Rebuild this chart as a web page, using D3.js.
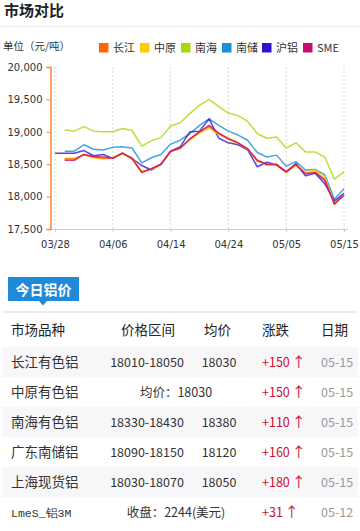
<!DOCTYPE html>
<html><head><meta charset="utf-8">
<script src="https://cdn.jsdelivr.net/npm/d3@7"></script>
<style>
body{margin:0;background:#fff;}
svg{display:block;font-family:"Noto Sans CJK SC","Noto Sans",sans-serif;}
</style></head>
<body><svg id="c" width="360" height="531"></svg>
<script>
const dates = ["03/28","03/29","03/30","03/31","04/03","04/04","04/06","04/07","04/10","04/11","04/12","04/13","04/14","04/17","04/18","04/19","04/20","04/21","04/24","04/25","04/26","04/27","04/28","05/04","05/05","05/08","05/09","05/10","05/11","05/12","05/15"];
const tickDates = ["03/28","04/06","04/14","04/24","05/05","05/15"];
const yTicks = [17500,18000,18500,19000,19500,20000];
const seriesNames = ["长江","中原","南海","南储","沪铝","SME"];
const seriesColors = ["#ff6600","#ffcc00","#a8d80a","#1a8fd6","#2a14d2","#cc0c6c"];
const changjiang = [null,18580,18580,18650,18610,18590,18600,18670,18580,18380,18430,18500,18700,18750,18890,19000,19080,18970,18900,18830,18730,18550,18490,18500,18380,18480,18360,18380,18270,17880,18030];
const zhongyuan  = [null,18590,18590,18640,18600,18580,18590,18660,18600,18400,18420,18490,18690,18740,18870,18980,19050,18960,18880,18820,18740,18560,18480,18510,18370,18490,18380,18410,18310,17880,18030];
const nanhai     = [null,19030,19010,19080,19010,19000,19000,19050,19020,18780,18860,18910,19090,19140,19280,19410,19500,19390,19290,19250,19160,18970,18900,18920,18750,18830,18690,18690,18610,18270,18380];
const nanchu     = [null,18700,18700,18800,18730,18720,18760,18770,18750,18520,18600,18650,18810,18870,18970,19100,19200,19100,19010,18950,18870,18680,18610,18640,18470,18540,18410,18420,18340,17960,18120];
const hulv       = [18670,18670,18670,18710,18630,18650,18590,18670,18590,18480,18410,18500,18700,18770,19000,19010,19200,18900,18830,18800,18720,18460,18530,18490,18370,18510,18320,18360,18200,17930,18050];
const sme        = [null,18560,18560,18650,18620,18610,18590,18670,18590,18370,18430,18500,18700,18750,18890,19000,19100,18980,18890,18830,18740,18560,18500,18490,18390,18500,18350,18370,18250,17890,18020];
const tableHeader = ["市场品种","价格区间","均价","涨跌","日期"];
const rowNames = ["长江有色铝","中原有色铝","南海有色铝","广东南储铝","上海现货铝","LmeS_铝3M"];
const rowRanges = ["18010-18050","均价：18030","18330-18430","18090-18150","18030-18070","收盘：2244(美元)"];
const rowAvgs = ["18030","","18380","18120","18050",""];
const rowChanges = ["+150","+150","+110","+160","+180","+31"];
const rowDates = ["05-15","05-15","05-15","05-15","05-15","05-12"];

const svg = d3.select("#c");
// header
svg.append("text").attr("x",4).attr("y",16).attr("font-size",15).attr("font-weight","bold").attr("fill","#222").text("市场对比");
svg.append("line").attr("x1",0).attr("x2",360).attr("y1",26.5).attr("y2",26.5).attr("stroke","#eee");
svg.append("text").attr("x",3).attr("y",50).attr("font-size",10.5).attr("fill","#333").text("单位（元/吨）");

// legend
const legX = [99,140,181,222,262,303];
const leg = svg.selectAll("g.leg").data(seriesNames).join("g").attr("class","leg")
  .attr("transform",(d,i)=>`translate(${legX[i]},43)`);
leg.append("rect").attr("width",9.5).attr("height",9.5).attr("fill",(d,i)=>seriesColors[i]);
leg.append("text").attr("x",14).attr("y",9).attr("font-size",11).attr("fill","#333").text(d=>d);

// scales
const x = d3.scalePoint().domain(dates).range([55,344]);
const y = d3.scaleLinear().domain([17500,20000]).range([229,67]);

// grid
svg.append("g").selectAll("line").data(tickDates).join("line")
  .attr("x1",d=>x(d)).attr("x2",d=>x(d)).attr("y1",67).attr("y2",229)
  .attr("stroke","#d8d8d8").attr("stroke-dasharray","2,2");

// x axis
const xa = svg.append("g").attr("transform","translate(0,229)")
  .call(d3.axisBottom(x).tickValues(tickDates).tickSize(3).tickPadding(9));
xa.select(".domain").remove();
xa.selectAll("line").attr("stroke","#ccc");
xa.selectAll("text").attr("font-family","DejaVu Sans").attr("font-size",10).attr("fill","#333");
svg.append("line").attr("x1",50).attr("x2",348).attr("y1",229.5).attr("y2",229.5).attr("stroke","#ccc");

// y axis
const ya = svg.append("g").attr("transform","translate(50.5,0)")
  .call(d3.axisLeft(y).tickValues(yTicks).tickSize(4).tickPadding(4).tickFormat(d3.format(",")));
ya.select(".domain").attr("stroke","#ff8533").attr("stroke-width",1.5);
ya.selectAll(".tick line").attr("stroke","#ff8533");
ya.selectAll("text").attr("font-family","DejaVu Sans").attr("font-size",10).attr("fill","#333");

// lines
const allSeries = [nanhai, nanchu, hulv, zhongyuan, changjiang, sme];
const allColors = [seriesColors[2],seriesColors[3],seriesColors[4],seriesColors[1],seriesColors[0],seriesColors[5]];
const line = d3.line().defined(d=>d!=null).x((d,i)=>x(dates[i])).y(d=>y(d));
svg.append("g").selectAll("path").data(allSeries).join("path")
  .attr("d",line).attr("fill","none").attr("stroke",(d,i)=>allColors[i])
  .attr("stroke-width",1.5).attr("stroke-opacity",0.8).attr("stroke-linejoin","round");

// tab
svg.append("rect").attr("x",8).attr("y",277).attr("width",71).attr("height",24).attr("fill","#1f8ad8");
svg.append("path").attr("d","M39,301 L43,305.5 L47,301 Z").attr("fill","#1f8ad8");
svg.append("text").attr("x",43.5).attr("y",294.5).attr("text-anchor","middle").attr("font-size",14).attr("font-weight","bold").attr("fill","#fff").text("今日铝价");
svg.append("rect").attr("x",2).attr("y",311).attr("width",356).attr("height",2).attr("fill","#ededf0");

// table
const colX = [11,121,204,262,321];
svg.append("g").selectAll("text").data(tableHeader).join("text")
  .attr("x",(d,i)=>colX[i]).attr("y",335).attr("font-size",13.5).attr("fill","#222").text(d=>d);

const rows = svg.append("g").selectAll("g").data(rowNames).join("g")
  .attr("transform",(d,i)=>`translate(0,${347+i*30})`);
rows.append("rect").attr("x",2).attr("width",356).attr("height",30).attr("fill",(d,i)=>i%2===0?"#f7f7f9":"#fff");
rows.append("text").attr("x",11).attr("y",20).attr("font-size",(d,i)=>i===5?11.5:13.5)
  .attr("font-family",(d,i)=>i===5?"Liberation Mono, DejaVu Sans Mono, monospace":null)
  .attr("fill","#333").text(d=>d);
rows.append("text").attr("x",(d,i)=>(i===1||i===5)?176:147).attr("y",20).attr("text-anchor","middle")
  .attr("font-size",12.5).attr("fill","#333").text((d,i)=>rowRanges[i]);
rows.append("text").attr("x",219).attr("y",20).attr("text-anchor","middle").attr("font-size",12.5).attr("fill","#333").text((d,i)=>rowAvgs[i]);
const ch = rows.append("text").attr("x",262).attr("y",20).attr("font-size",12.5).attr("fill","#c8102e");
ch.append("tspan").text((d,i)=>rowChanges[i]);
ch.append("tspan").attr("dx",2).attr("font-size",14).text("↑");
rows.append("text").attr("x",321).attr("y",20).attr("font-size",12.5).attr("fill","#999").text((d,i)=>rowDates[i]);
</script></body></html>
